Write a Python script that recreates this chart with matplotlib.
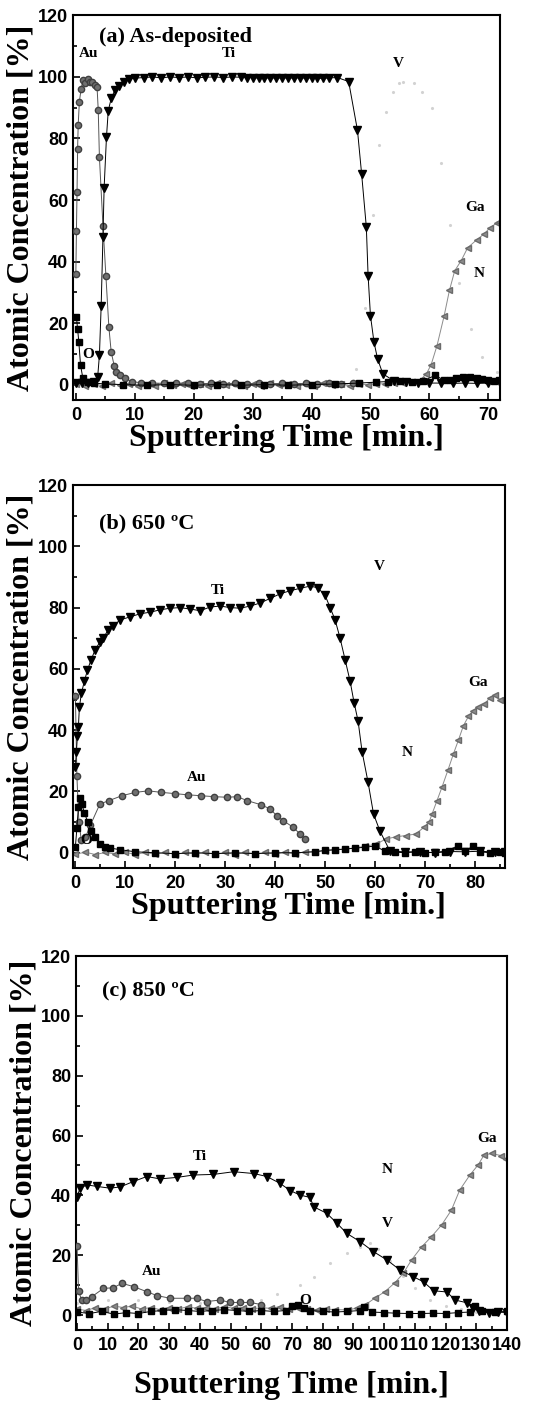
"""
AES depth profiles of the Au/Ti/V contact on GaN, three anneal states.
Three stacked panels: (a) as-deposited, (b) 650 C, (c) 850 C.
"""
import matplotlib
matplotlib.use("Agg")
import matplotlib.pyplot as plt
from matplotlib.ticker import MultipleLocator


# ---- (a) As-deposited -------------------------------------------------------
AU_A_T = [0, 0.1, 0.2, 0.3, 0.4, 0.6, 0.9, 1.2, 1.6, 2.0, 2.4, 2.8, 3.2, 3.6, 3.8,
          4.0, 4.6, 5.1, 5.6, 6.0, 6.5, 6.9, 7.5, 8.3, 9.5, 11, 13, 15, 17, 19,
          21, 23, 25, 27, 29, 31, 33, 35, 37, 39, 41, 43, 45, 47]
AU_A_Y = [36, 50, 62.5, 76.7, 84.5, 92, 96.2, 98.9, 98.0, 99.3, 98.5, 98.2, 97.5, 96.7, 89.3,
          74, 51.7, 35.4, 18.8, 10.6, 6.2, 4.0, 3.0, 2.0, 1.0, 0.6, 0.5, 0.4, 0.5, 0.4,
          0.3, 0.4, 0.3, 0.4, 0.3, 0.4, 0.3, 0.4, 0.3, 0.4, 0.3, 0.4, 0.3, 0.4]

TI_A_T = [0, 1, 2, 3, 3.7, 4.0, 4.3, 4.6, 4.8, 5.2, 5.5, 6.0, 6.6, 7.4, 8.2,
          9, 10, 11.5, 13, 14.5, 16, 17.5, 19, 20.5, 22, 23.5, 25, 26.5, 28, 29,
          30, 31, 32, 33, 34, 35, 36, 37, 38, 39, 40, 41, 42, 43, 44.4,
          46.3, 47.8, 48.5, 49.3, 49.6, 50.0, 50.6, 51.2, 52.1, 54,
          56, 58, 60, 62, 64, 66, 68, 70, 72]
TI_A_Y = [0.5, 0.4, 0.6, 0.8, 2.4, 9.5, 25.7, 48, 64, 80.5, 89, 93, 95.6, 97, 98.5,
          99.2, 99.6, 99.8, 100, 99.7, 100, 99.8, 100, 99.7, 99.9, 100, 99.8, 100, 99.9, 99.7,
          99.8, 99.6, 99.7, 99.6, 99.7, 99.6, 99.7, 99.6, 99.7, 99.6, 99.7, 99.6, 99.5, 99.7, 99.8,
          98.5, 82.6, 68.5, 51.2, 35.4, 22.4, 13.8, 8.4, 3.5, 1.2,
          0.8, 0.6, 0.5, 0.5, 0.4, 0.5, 0.4, 0.5, 0.4]

GA_A_T = [0, 1.5, 3, 4.5, 6, 7.5, 9, 10.5, 12, 13.5, 15, 16.5, 18, 19.5, 21,
          22.5, 24, 25.5, 27, 28.5, 30, 31.5, 33, 34.5, 36, 37.5, 39, 40.5, 42, 43.5,
          45, 46.5, 48, 49.5, 51, 52.5, 54, 55.5, 57,
          58.5, 59.5, 60.3, 61.3, 62.5, 63.4, 64.3, 65.4, 66.5, 68.0, 69.3, 70.3, 71.4, 71.8]
GA_A_Y = [0.3, -0.4, 0.2, -0.3, 0.4, -0.2, 0.3, -0.4, 0.2, -0.3, 0.4, -0.2, 0.3, -0.4, 0.2,
          -0.3, 0.4, -0.2, 0.3, -0.4, 0.2, -0.3, 0.4, -0.2, 0.3, -0.4, 0.2, -0.3, 0.4, -0.2,
          0.3, -0.4, 0.2, 0.0, 0.3, 0.2, 0.5, 0.6, 0.9,
          1.6, 3.5, 6.5, 12.7, 22.3, 30.6, 37, 40.3, 44.5, 47, 49, 51, 52.5, 53]

O_A_T = [0.1, 0.3, 0.5, 0.8, 1.2, 2, 3, 5, 8, 12, 16, 20, 24, 28, 32, 36, 40, 44, 48, 51,
         53, 55, 57, 59, 61, 62.4, 63.5, 64.6, 65.7, 66.9, 68, 69, 70, 71, 71.8]
O_A_Y = [22, 18, 14, 6.3, 2.0, 1.0, 0.5, 0.2, 0.0, -0.2, 0.0, -0.2, 0.0, -0.2, 0.0, -0.2, 0.0, 0.2, 0.5, 0.8,
         1.0, 1.2, 1.0, 1.3, 3.0, 1.5, 1.5, 2.0, 2.4, 2.5, 2.0, 1.8, 1.5, 1.2, 1.5]

V_A_T = [46, 47.5, 49, 50.5, 51.5, 52.6, 53.8, 54.8, 55.6, 57.4, 58.8, 60.4, 62, 63.5, 65, 67, 69, 71.5]
V_A_Y = [0, 5, 25, 55, 78, 88.5, 95, 98, 98.5, 98, 95, 90, 72, 52, 33, 18, 9, 4]

# ---- (b) 650 C --------------------------------------------------------------
AU_B_T = [0, 0.3, 0.7, 1.2, 2.0, 3.0, 4.9, 6.7, 9.3, 12, 14.6, 17.2, 19.9, 22.5, 25.2,
          27.8, 30.4, 32.4, 34.4, 37.1, 39, 40.3, 41.6, 43.6, 45, 46]
AU_B_Y = [51, 25, 10, 4, 5, 9, 15.9, 17, 18.6, 19.7, 20.2, 19.7, 19.3, 18.9, 18.6,
          18.3, 18.1, 18.3, 17, 15.7, 14.3, 12.1, 10.5, 8.3, 6.1, 4.5]

TI_B_T = [0, 0.2, 0.4, 0.6, 0.8, 1.2, 1.8, 2.4, 3.1, 3.9, 4.9, 5.6, 6.5, 7.5, 9,
          11, 13, 15, 17, 19, 21, 23, 25, 27, 29, 31, 33, 35, 37, 39,
          41, 43, 45, 47, 48.5, 50, 51, 52, 53, 54, 55, 55.8, 56.6, 57.4, 58.6,
          59.7, 61.0, 63, 66, 69, 72, 75, 78, 81, 84, 86]
TI_B_Y = [28, 33, 38, 41, 47.5, 52, 56, 59.5, 62.8, 66, 68.8, 70, 72.6, 74, 76,
          77, 78, 78.5, 79.3, 79.8, 80, 79.5, 79, 80.2, 80.5, 80, 79.8, 80.5, 81.5, 83,
          84.5, 85.5, 86.3, 87, 86.5, 84, 80, 76, 70, 63, 56, 49, 43, 33, 23,
          12.6, 7, 0.5, 0.3, 0.2, 0.0, 0.4, 0.3, 0.5, 0.2, 0.3]

GA_B_T = [0, 2, 4, 6, 8, 10, 12, 14, 16, 18, 20, 22, 24, 26, 28, 30, 32, 34, 36, 38,
          40, 42, 44, 46, 48,
          50, 52, 54, 56, 58, 60.2, 62.2, 64.2, 66.1, 68.1, 69.8, 70.8, 71.4, 72.4, 73.4,
          74.6, 75.7, 76.7, 77.7, 78.7, 79.7, 80.6, 81.9, 83, 84, 85, 86]
GA_B_Y = [-0.5, 0.2, -0.6, 0.1, -0.4, 0.2, -0.6, 0.1, -0.5, 0.2, -0.6, 0.1, -0.4, 0.2, -0.5,
          0.1, -0.6, 0.2, -0.4, 0.1, -0.5, 0.2, -0.4, 0.3, 0.4,
          0.6, 0.9, 1.2, 1.6, 2.1, 2.8, 4.5, 5.2, 5.6, 6.1, 8.3, 9.9, 12.6, 17, 21.4,
          27, 32.3, 36.8, 41.5, 44.5, 46.4, 47.5, 48.6, 50.5, 51.5, 50, 50.5]

O_B_T = [0, 0.3, 0.6, 0.9, 1.3, 1.8, 2.5, 3.2, 4, 5, 6, 7, 9, 12, 16, 20, 24, 28, 32, 36,
         40, 44, 48, 50, 52, 54, 56, 58, 60, 62, 64, 66, 68, 70, 72, 74, 76.7, 78, 79.7, 81,
         83, 85, 86]
O_B_Y = [2, 8, 15, 18, 16, 13, 10, 7, 5, 3, 2, 1.5, 1, 0.3, 0, -0.3, 0, -0.3, 0, -0.3,
         0, 0, 0.3, 0.8, 1.0, 1.2, 1.5, 1.8, 2.2, 0.5, 0.2, 0.0, 0.3, 0.0, 0.2, 0.4, 2.3, 0.5, 2.3, 0.3,
         0.0, 0.2, 0.0]

# ---- (c) 850 C --------------------------------------------------------------
AU_C_T = [0, 0.5, 1.5, 3, 4.8, 8.6, 11.8, 14.6, 18.4, 22.7, 26, 30.3, 35.7, 39, 42.2,
          46.6, 49.8, 53.1, 56.3, 60]
AU_C_Y = [23, 8, 5, 5, 6.1, 8.9, 9.1, 10.6, 9.5, 7.8, 6.5, 5.6, 5.6, 5.6, 4.5,
          5, 4.2, 4.2, 4.2, 3.5]

TI_C_T = [0, 1, 3.2, 6.4, 10.7, 14, 18.3, 22.7, 27, 32.5, 37.9, 44.4, 51, 57.5, 61.8,
          66.1, 69.4, 72.6, 75.9, 77, 81.3, 84.6, 87.8, 92.2, 96.5, 100.9, 105.2, 109.5, 112.8, 116.1,
          120.4, 123.1, 126.9, 128.8, 131, 134, 137, 140]
TI_C_Y = [39.6, 42.4, 43.5, 43, 42.4, 42.8, 44.6, 46.3, 45.5, 46, 46.8, 47, 47.9, 47.3, 46.3,
          44, 41.6, 40.1, 39.3, 36.2, 34, 30.7, 27.3, 24.5, 21.2, 18.4, 15, 12.8, 11.1, 8.1,
          7.7, 5, 4.1, 2.5, 1.2, 0.8, 1.0, 0.8]

GA_C_T = [0, 3, 6, 9, 12, 15, 18, 21, 24, 27, 30, 33, 36, 39, 42, 45, 48, 51, 54, 57,
          60, 63, 66, 69, 72, 75, 78, 81, 84,
          88.3, 91, 93.7, 96.9, 100.2, 103.5, 106.2, 108.9, 112.2, 115.4, 118.7, 121.9, 124.6,
          127.9, 130.6, 132.5, 135, 138, 139.7]
GA_C_Y = [2.0, 1.5, 2.5, 2.0, 3.0, 2.5, 3.0, 2.0, 2.5, 1.8, 2.5, 2.0, 2.8, 2.2, 2.5,
          2.0, 2.8, 2.2, 2.5, 2.0, 2.5, 2.2, 2.8, 2.0, 2.5, 2.0, 1.8, 2.0, 1.8,
          1.7, 2.3, 3.3, 5.6, 7.8, 10.8, 13.9, 18.4, 22.8, 26.2, 30.1, 35.1, 41.8,
          46.8, 50.2, 53.5, 54, 53.3, 52.2]

O_C_T = [0, 4, 8, 12, 16, 20, 24, 28, 32, 36, 40, 44, 48, 52, 56, 60, 64, 68,
         70, 72, 74, 76, 80, 84, 88, 92, 93.5, 96, 100, 104, 108, 112, 116,
         120, 124, 128, 129.5, 132, 136, 140]
O_C_Y = [1.0, 0.5, 1.2, 0.3, 0.8, 0.5, 1.2, 1.5, 1.8, 1.5, 1.2, 1.5, 1.8, 1.5, 1.2, 1.5, 1.2, 1.5,
         3.0, 3.2, 2.5, 1.5, 1.2, 1.0, 1.2, 1.5, 2.8, 1.0, 0.8, 0.6, 0.5, 0.5, 0.6,
         0.5, 0.8, 1.0, 3.0, 1.2, 1.0, 1.2]

V_C_T = [0, 10, 20, 30, 40, 50, 60, 65, 72.6, 77, 82.4, 87.8, 92.2, 95.4, 98, 102,
         106, 110, 115, 120, 125, 130, 135, 140]
V_C_Y = [4, 5, 5, 4.5, 4, 4, 5, 7, 10, 12.8, 17.3, 20.6, 22.8, 24, 22, 18,
         13, 9, 5, 3, 2, 1, 1, 1]

# element labels written inside each panel: (text, t, conc)
LABELS_A = [("Au", 2.2, 107.7), ("Ti", 26, 107.7), ("V", 54.8, 104.3),
            ("Ga", 67.8, 57.7), ("N", 68.5, 36), ("O", 2.1, 9.8)]
LABELS_B = [("Ti", 28.5, 85.7), ("V", 60.9, 93.3), ("Ga", 80.7, 55.7),
            ("N", 66.5, 32.8), ("Au", 24.2, 24.6), ("O", 2.2, 3.9)]
LABELS_C = [("Ti", 40, 53), ("Au", 24.3, 14.5), ("N", 100.9, 48.5),
            ("V", 100.9, 30.7), ("Ga", 133.4, 59), ("O", 74.3, 5)]

SERIF = "Liberation Serif"
SANS = "Liberation Sans"

# V barely printed in the original scan: faint dots only
STYLE = {
    "V":  dict(color="#d2d2d2", marker=".", ms=2.5, ls="none", zorder=1),
    "Ga": dict(color="#8c8c8c", marker="<", ms=5, lw=0.7, mec="#6a6a6a", zorder=2),
    "Au": dict(color="#555555", marker="o", ms=4.5, lw=0.7, mfc="#707070", mec="#404040", zorder=3),
    "O":  dict(color="black", marker="s", ms=4, lw=0.7, zorder=4),
    "Ti": dict(color="black", marker="v", ms=5.5, lw=0.7, zorder=5),
}


def draw_panel(ax, series, labels, title, title_xy, xmax, xlo):
    for name, t, y in series:
        assert len(t) == len(y), name
        ax.plot(t, y, **STYLE[name])
    for txt, x, y in labels:
        ax.text(x, y, txt, fontsize=11, fontweight="bold", family=SERIF,
                ha="center", va="center", zorder=6)
    ax.text(title_xy[0], title_xy[1], title, fontsize=16, fontweight="bold",
            family=SERIF, ha="left", va="center")

    ax.set_xlim(xlo, xmax)
    ax.set_ylim(-5, 120)
    ax.xaxis.set_major_locator(MultipleLocator(10))
    ax.xaxis.set_minor_locator(MultipleLocator(5))
    ax.yaxis.set_major_locator(MultipleLocator(20))
    ax.yaxis.set_minor_locator(MultipleLocator(10))
    ax.tick_params(which="both", direction="in", width=1.2)
    ax.tick_params(which="major", length=5, labelsize=13)
    ax.tick_params(which="minor", length=3)
    ax.tick_params(axis="x", which="major", pad=5)
    ax.tick_params(axis="y", which="major", pad=3.5)
    for lab in ax.get_xticklabels() + ax.get_yticklabels():
        lab.set_family(SANS)
        lab.set_fontweight("bold")
    for sp in ax.spines.values():
        sp.set_linewidth(1.5)
    ax.set_ylabel("Atomic Concentration [%]", fontsize=23, fontweight="bold",
                  family=SERIF, labelpad=2)


fig = plt.figure(figsize=(5.36, 14.01), dpi=100)

ax_a = fig.add_axes([0.136, 0.7145, 0.797, 0.2745])
draw_panel(ax_a,
           [("V", V_A_T, V_A_Y), ("Ga", GA_A_T, GA_A_Y), ("Au", AU_A_T, AU_A_Y),
            ("O", O_A_T, O_A_Y), ("Ti", TI_A_T, TI_A_Y)],
           LABELS_A, "(a) As-deposited", (4.0, 113), 72, -0.5)
ax_a.set_xlabel("Sputtering Time [min.]", fontsize=23, fontweight="bold",
                family=SERIF, labelpad=0)

ax_b = fig.add_axes([0.136, 0.3804, 0.806, 0.2734])
draw_panel(ax_b,
           [("Ga", GA_B_T, GA_B_Y), ("Au", AU_B_T, AU_B_Y),
            ("O", O_B_T, O_B_Y), ("Ti", TI_B_T, TI_B_Y)],
           LABELS_B, "(b) 650 ºC", (4.75, 107.5), 86, -0.5)
ax_b.set_xlabel("Sputtering Time [min.]", fontsize=23, fontweight="bold",
                family=SERIF, labelpad=0)

ax_c = fig.add_axes([0.142, 0.0507, 0.804, 0.2669])
draw_panel(ax_c,
           [("V", V_C_T, V_C_Y), ("Ga", GA_C_T, GA_C_Y), ("Au", AU_C_T, AU_C_Y),
            ("O", O_C_T, O_C_Y), ("Ti", TI_C_T, TI_C_Y)],
           LABELS_C, "(c) 850 ºC", (8, 108), 140, -0.3)
ax_c.set_xlabel("Sputtering Time [min.]", fontsize=23, fontweight="bold",
                family=SERIF, labelpad=12)

fig.savefig("out.png", dpi=100)
